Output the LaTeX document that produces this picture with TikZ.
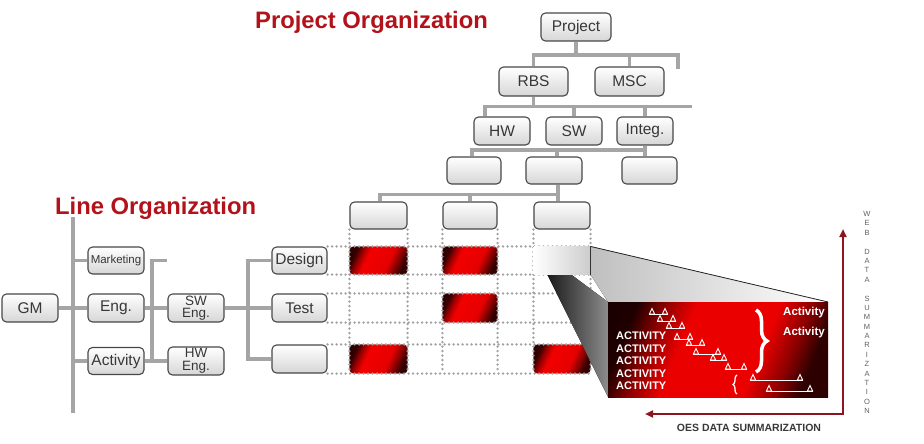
\documentclass[tikz,border=0pt]{standalone}
\usepackage{fontspec}
\setmainfont{Liberation Sans}
\usetikzlibrary{arrows.meta,decorations.pathreplacing}
\definecolor{ttlred}{RGB}{178,18,26}
\definecolor{txtgray}{RGB}{55,55,55}
\definecolor{conngray}{RGB}{165,165,165}
\definecolor{dotgray}{RGB}{160,160,160}
\definecolor{arrred}{RGB}{140,22,30}
\pgfdeclarehorizontalshading{panelglow}{100bp}{color(0bp)=(black!95!red); color(25bp)=(black!88!red); color(32bp)=(red!55!black); color(40bp)=(red!92!black); color(61bp)=(red!92!black); color(69bp)=(red!55!black); color(75bp)=(black!82!red); color(100bp)=(black!85!red)}
\pgfdeclarehorizontalshading{cellglow}{100bp}{color(0bp)=(black!90!red); color(25bp)=(black!80!red); color(31bp)=(red!60!black); color(38bp)=(red!95!black); color(60bp)=(red!90!black); color(70bp)=(red!45!black); color(75bp)=(black!80!red); color(100bp)=(black!85!red)}
\newcommand{\msp}[3]{%
  \draw[mk] (#1-3,#3) -- (#2+3,#3);
  \draw[mk] (#1-2.6,#3) -- (#1,#3-5.5) -- (#1+2.6,#3) -- cycle;
  \draw[mk] (#2-2.6,#3) -- (#2,#3-5.5) -- (#2+2.6,#3) -- cycle;}
\begin{document}
\begin{tikzpicture}[x=1pt,y=-1pt,
  box/.style={draw=black!72, line width=1.1pt, rounded corners=4.5pt, top color=white, bottom color=black!16,
    text=txtgray, inner sep=0pt, align=center, font=\fontsize{15.5}{13}\selectfont},
  conn/.style={draw=conngray, line width=3.6pt},
  dotln/.style={draw=dotgray, line width=2.6pt, line cap=round, dash pattern=on 0pt off 4.5pt},
  redcell/.style={rounded corners=4pt, shade, shading=cellglow, shading angle=-25},
  ttl/.style={text=ttlred, font=\fontsize{23.8}{24}\selectfont\bfseries, inner sep=0pt},
  wtxt/.style={text=white, font=\fontsize{11}{11}\selectfont\bfseries, inner sep=0pt},
  mk/.style={draw=white, line width=0.9pt},
  arr/.style={draw=arrred, line width=2pt, line cap=rect, -{Triangle[length=8pt,width=7pt]}},
  vl/.style={text=black!62, font=\fontsize{7.5}{7.5}\selectfont, inner sep=0pt},
  twoline/.style={font=\fontsize{13.5}{12.5}\selectfont}
]
\useasboundingbox (0,0) rectangle (924,444);

% titles
\node[ttl, anchor=base west] (ptitle) at (255,28.5) {Project Organization};
\node[ttl, anchor=base west] (ltitle) at (55,214) {Line Organization};

% project organization boxes
\node[box, minimum width=70pt, minimum height=28pt] (project) at (576,27) {Project};
\node[box, minimum width=69pt, minimum height=29pt] (rbs) at (533.5,81.5) {RBS};
\node[box, minimum width=69pt, minimum height=29pt] (msc) at (629.5,81.5) {MSC};
\node[box, minimum width=56pt, minimum height=28pt] (hw) at (502,131) {HW};
\node[box, minimum width=56pt, minimum height=28pt] (sw) at (574,131) {SW};
\node[box, minimum width=56pt, minimum height=28pt] (integ) at (645,131) {Integ.};
\node[box, minimum width=54pt, minimum height=27pt] (l4a) at (474,170.5) {};
\node[box, minimum width=56pt, minimum height=27pt] (l4b) at (554,170.5) {};
\node[box, minimum width=55pt, minimum height=27pt] (l4c) at (649.5,170.5) {};
\node[box, minimum width=57pt, minimum height=27pt] (c1) at (378.5,215.5) {};
\node[box, minimum width=54pt, minimum height=27pt] (c2) at (470,215.5) {};
\node[box, minimum width=56pt, minimum height=27pt] (c3) at (562,215.5) {};

% line organization boxes
\node[box, minimum width=56pt, minimum height=28pt] (gm) at (30,308) {GM};
\node[box, minimum width=56pt, minimum height=27pt, font=\fontsize{11.5}{12}\selectfont] (mkt) at (116,260.5) {Marketing};
\node[box, minimum width=56pt, minimum height=28pt] (eng) at (116,308) {Eng.};
\node[box, minimum width=56pt, minimum height=27pt] (act) at (116,361) {Activity};
\node[box, twoline, minimum width=56pt, minimum height=28pt] (sweng) at (196,308) {SW\\Eng.};
\node[box, twoline, minimum width=56pt, minimum height=28pt] (hweng) at (196,361) {HW\\Eng.};
\node[box, minimum width=55pt, minimum height=27pt] (design) at (299.5,260.5) {Design};
\node[box, minimum width=55pt, minimum height=28pt] (test) at (299.5,308) {Test};
\node[box, minimum width=55pt, minimum height=28pt] (lblank) at (299.5,359) {};

% project tree connectors
\coordinate (pb) at (0,55);
\coordinate (pfree) at (678,69);
\draw[conn] (project.south) -- (project.south |- pb);
\draw[conn] (rbs.north) -- (rbs.north |- pb) -- (pfree |- pb) -- (pfree);
\draw[conn] (msc.north) -- (msc.north |- pb);
\coordinate (b2) at (0,106.5);
\coordinate (b2free) at (692,106.5);
\draw[conn] (rbs.south) -- (rbs.south |- b2);
\draw[conn] ([xshift=-17pt]hw.north) -- ([xshift=-17pt]hw.north |- b2) -- (b2free);
\draw[conn] (sw.north) -- (sw.north |- b2);
\draw[conn] (integ.north) -- (integ.north |- b2);
\coordinate (b3) at (0,150);
\draw[conn] (integ.south) -- (integ.south |- l4c.north);
\draw[conn] ([xshift=-2pt]l4a.north) -- ([xshift=-2pt]l4a.north |- b3) -- (integ.south |- b3);
\draw[conn] ([xshift=3pt]l4b.north) -- ([xshift=3pt]l4b.north |- b3);
\coordinate (b4) at (0,194.5);
\draw[conn] ([xshift=4pt]l4b.south) -- ([xshift=4pt]l4b.south |- c3.north);
\draw[conn] ([xshift=1.5pt]c1.north) -- ([xshift=1.5pt]c1.north |- b4) -- ([xshift=4pt]l4b.south |- b4);
\draw[conn] (c2.north) -- (c2.north |- b4);

% line tree connectors
\coordinate (ltop) at (73,217);
\coordinate (lbot) at (73,413);
\draw[conn] (ltop) -- (lbot);
\draw[conn] (gm.east) -- (eng.west);
\draw[conn] (mkt.west) -- (mkt.west -| ltop);
\draw[conn] (act.west) -- (act.west -| ltop);
\coordinate (sv) at (152,0);
\coordinate (sfree) at (167,260.5);
\draw[conn] (sfree) -- (sv |- sfree) -- (sv |- hweng.west);
\draw[conn] (eng.east) -- (sweng.west);
\draw[conn] (act.east) -- (hweng.west);
\coordinate (tv) at (248,0);
\draw[conn] (sweng.east) -- (test.west);
\draw[conn] (design.west) -- (design.west -| tv) -- (tv |- lblank.west) -- (lblank.west);

% red cells
\path[redcell] (c1.west |- design.north) rectangle (c1.east |- design.south);
\path[redcell] (c2.west |- design.north) rectangle (c2.east |- design.south);
\path[redcell] (c2.west |- test.north) rectangle (c2.east |- test.south);
\path[redcell] (c1.west |- lblank.north) rectangle (c1.east |- lblank.south);
\path[redcell] (c3.west |- lblank.north) rectangle (c3.east |- lblank.south);

% dotted grid
\foreach \n in {c1,c2,c3}{
  \draw[dotln] (\n.south west) -- (\n.south west |- lblank.south);
  \draw[dotln] (\n.south east) -- (\n.south east |- lblank.south);
}
\foreach \r in {design,test,lblank}{
  \draw[dotln] (\r.north east) -- (\r.north east -| c3.east);
  \draw[dotln] (\r.south east) -- (\r.south east -| c3.east);
}

% zoom projection
\coordinate (pnw) at (608,302);
\coordinate (pne) at (828,302);
\coordinate (psw) at (608,397);
\coordinate (bx1) at (c3.west |- design.north);
\coordinate (bx2) at (c3.east |- design.north);
\coordinate (bx3) at (c3.east |- design.south);
\fill[left color=black!25, right color=white] (bx2) -- (pne) -- (pnw) -- (bx3) -- cycle;
\draw[black!85, line width=0.8pt] (bx2) -- (pne);
\fill[left color=black, right color=black!45] (bx1) -- (pnw) -- (psw) -- cycle;
\fill[left color=white, right color=black!20] (bx1) rectangle (bx3);
\draw[black!80, line width=0.6pt] (bx2) -- (bx3);
\node[shade, shading=panelglow, shading angle=-22, minimum width=220pt, minimum height=95pt, inner sep=0pt] (panel) at (718,349.5) {};

% panel contents
\node[wtxt, anchor=west] (a1) at (616,336) {ACTIVITY};
\node[wtxt, anchor=west] (a2) at (616,348.5) {ACTIVITY};
\node[wtxt, anchor=west] (a3) at (616,361) {ACTIVITY};
\node[wtxt, anchor=west] (a4) at (616,373.5) {ACTIVITY};
\node[wtxt, anchor=west] (a5) at (616,386) {ACTIVITY};
\node[wtxt, font=\fontsize{11.5}{11.5}\selectfont\bfseries] (act1) at (804,313) {Activity};
\node[wtxt, font=\fontsize{11.5}{11.5}\selectfont\bfseries] (act2) at (804,333) {Activity};
\msp{652}{665}{314}
\msp{660}{673}{321}
\msp{669}{682}{328}
\msp{677}{690}{339}
\msp{689}{702}{345}
\msp{696}{718}{354}
\msp{713}{724}{360}
\msp{728}{744}{369}
\msp{753}{800}{380}
\msp{769}{810}{391}
\draw[white, line width=3.5pt, decorate, decoration={brace, amplitude=11pt}] (756,310) -- (756,372);
\draw[white, line width=1.3pt, decorate, decoration={brace, amplitude=4pt}] (737,394) -- (737,375);

% summarization arrows
\coordinate (corner) at (843,414);
\coordinate (vtip) at (843,229);
\coordinate (htip) at (645,414);
\draw[arr] (corner) -- (vtip);
\draw[arr] (corner) -- (htip);
\node[text=black!78, font=\fontsize{10.5}{10.5}\selectfont\bfseries, inner sep=0pt] (oes) at (749,428) {OES DATA SUMMARIZATION};
\foreach \i/\ch in {0/W,1/E,2/B,4/D,5/A,6/T,7/A,9/S,10/U,11/M,12/M,13/A,14/R,15/I,16/Z,17/A,18/T,19/I,20/O,21/N}{
  \node[vl] (v\i) at (867,214+\i*9.38) {\ch};
}
\end{tikzpicture}
\end{document}
